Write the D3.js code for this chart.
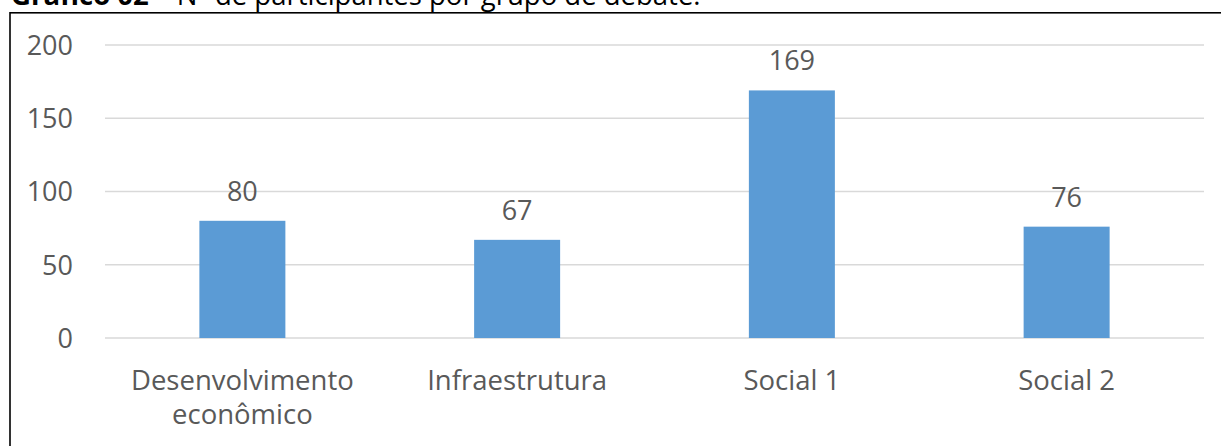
<!DOCTYPE html>
<html><head><meta charset="utf-8">
<script src="https://cdn.jsdelivr.net/npm/d3@7"></script>
<style>
html,body{margin:0;padding:0;background:#fff;}
svg{display:block;}
</style></head>
<body>
<script>
const categories = [["Desenvolvimento","econômico"],["Infraestrutura"],["Social 1"],["Social 2"]];
const values = [80, 67, 169, 76];
const yTicks = [0, 50, 100, 150, 200];
const titleBold = "Gráfico 02";
const titleRest = " – Nº de participantes por grupo de debate.";

const W = 1221, H = 446;
const font = "'Open Sans', 'Noto Sans', sans-serif";
const svg = d3.select("body").append("svg").attr("width", W).attr("height", H);

// chart border
svg.append("rect").attr("x", 10).attr("y", 12.8).attr("width", W + 20).attr("height", H + 20)
  .attr("fill", "none").attr("stroke", "#000").attr("stroke-width", 1.6);

// title (partially cut off at top, as in the reference)
const t = svg.append("text").attr("x", 11).attr("y", 5)
  .attr("font-family", font).attr("font-size", 27.5).attr("fill", "#000");
t.append("tspan").attr("font-weight", "bold").text(titleBold);
t.append("tspan").text(titleRest);

const idx = d3.range(values.length);
const x = d3.scaleBand().domain(idx).range([105, 1204]).paddingInner(0.687).paddingOuter(0.3435);
const y = d3.scaleLinear().domain([0, 200]).range([338, 45]);

// gridlines
svg.append("g").selectAll("line").data(yTicks).join("line")
  .attr("x1", 105).attr("x2", 1204)
  .attr("y1", d => y(d)).attr("y2", d => y(d))
  .attr("stroke", "#d9d9d9").attr("stroke-width", 1.5);

// y axis labels
const yAxis = d3.axisLeft(y).tickValues(yTicks).tickSize(0).tickPadding(0);
const gy = svg.append("g").attr("transform", "translate(73,0)").call(yAxis);
gy.select(".domain").remove();
gy.selectAll("text").attr("font-family", font).attr("font-size", 27).attr("fill", "#595959").attr("dy", "0.35em");

// bars
svg.append("g").selectAll("rect").data(values).join("rect")
  .attr("x", (d, i) => x(i)).attr("width", x.bandwidth())
  .attr("y", d => y(d)).attr("height", d => y(0) - y(d))
  .attr("fill", "#5b9bd5");

// data labels
svg.append("g").selectAll("text").data(values).join("text")
  .attr("x", (d, i) => x(i) + x.bandwidth() / 2)
  .attr("y", d => y(d) - 20)
  .attr("text-anchor", "middle")
  .attr("font-family", font).attr("font-size", 27).attr("fill", "#595959")
  .text(d => d);

// category labels
const cg = svg.append("g").selectAll("text").data(categories).join("text")
  .attr("x", (d, i) => x(i) + x.bandwidth() / 2)
  .attr("y", 390)
  .attr("text-anchor", "middle")
  .attr("font-family", font).attr("font-size", 27.5).attr("fill", "#595959");
cg.selectAll("tspan").data(d => d).join("tspan")
  .attr("x", function() { return d3.select(this.parentNode).attr("x"); })
  .attr("dy", (d, j) => j === 0 ? 0 : 34)
  .text(d => d);
</script>
</body></html>
